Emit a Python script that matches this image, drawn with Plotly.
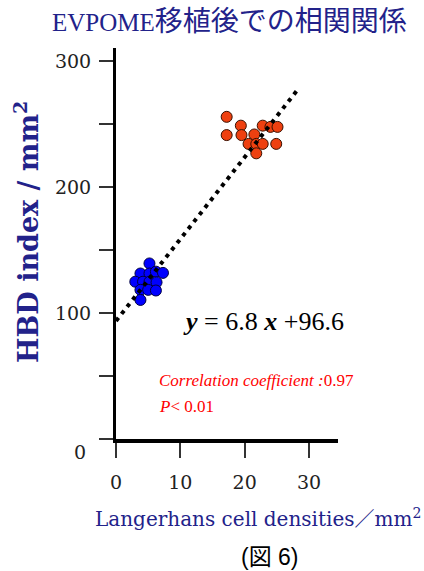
import plotly.graph_objects as go

# ---- data ----
orange_x = [17.2, 17.2, 19.4, 19.5, 21.5, 20.6, 21.8, 22.8, 21.8, 22.8, 24.0, 25.1, 24.9]
orange_y = [256.0, 241.5, 249.0, 241.5, 242.0, 234.5, 234.5, 234.5, 227.0, 249.0, 248.0, 248.0, 234.5]
blue_x = [5.2, 3.8, 5.2, 6.2, 7.3, 3.0, 4.2, 5.2, 6.3, 3.8, 5.0, 6.2, 3.8]
blue_y = [139.5, 131.5, 131.5, 133.0, 132.0, 125.0, 125.0, 125.0, 124.5, 118.5, 118.5, 118.0, 110.5]
fit_x = [0.0, 28.3]
fit_y = [93.8, 278.0]

x_tickvals = [0, 10, 20, 30]
y_tickvals = [0, 50, 100, 150, 200, 250, 300]
y_ticktext = ["", "", "100", "", "200", "", "300"]

W, H = 424, 571
L, R, T, B = 116, 86, 48, 132
PW, PH = W - L - R, H - T - B


def px(x):
    return (x - L) / PW


def py(y):
    return (H - B - y) / PH


NAVY = "#22228a"
SERIF = "Liberation Serif, Times New Roman, serif"
CENTURY = "DejaVu Serif, serif"
TICKFONT = dict(family=CENTURY, size=19, color="#222222")

fig = go.Figure()
fig.add_trace(go.Scatter(
    x=orange_x, y=orange_y, mode="markers",
    marker=dict(size=11, color="#ee4010", line=dict(color="#3a1000", width=1)),
    showlegend=False, hoverinfo="skip"))
fig.add_trace(go.Scatter(
    x=blue_x, y=blue_y, mode="markers",
    marker=dict(size=11, color="#0000ff", line=dict(color="#000040", width=1)),
    showlegend=False, hoverinfo="skip"))
fig.add_trace(go.Scatter(
    x=fit_x, y=fit_y, mode="lines",
    line=dict(color="black", width=4, dash="4px,5px"),
    showlegend=False, hoverinfo="skip"))

fig.update_layout(
    width=W, height=H,
    margin=dict(l=L, r=R, t=T, b=B, pad=0),
    paper_bgcolor="white", plot_bgcolor="white",
    xaxis=dict(range=[0, 34.5], showgrid=False, zeroline=False,
               showline=True, linewidth=4, linecolor="black",
               ticks="outside", ticklen=15, tickwidth=1.5, tickcolor="#333333",
               tickvals=x_tickvals, tickfont=TICKFONT, ticklabelstandoff=8),
    yaxis=dict(range=[0, 310.7], showgrid=False, zeroline=False,
               showline=True, linewidth=3, linecolor="black",
               ticks="outside", ticklen=14, tickwidth=1.5, tickcolor="#333333",
               tickvals=y_tickvals, ticktext=y_ticktext, tickfont=TICKFONT,
               ticklabelstandoff=4),
)

ann = [
    dict(text='EVPOME<span style="font-size:28px">移植後での相関関係</span>',
         x=px(229), y=py(22), font=dict(family=SERIF + ", Noto Sans CJK JP", size=25, color=NAVY),
         xanchor="center", yanchor="middle"),
    dict(text="<b>HBD index / mm<sup>2</sup></b>", x=px(26), y=py(232), textangle=-90,
         font=dict(family=CENTURY, size=27, color=NAVY), xanchor="center", yanchor="middle"),
    dict(text="Langerhans cell densities／mm<sup>2</sup>", x=px(258), y=py(518),
         font=dict(family=CENTURY + ", Noto Sans CJK JP", size=20, color=NAVY),
         xanchor="center", yanchor="middle"),
    dict(text="(図 6)", x=px(270), y=py(557),
         font=dict(family="Liberation Sans, Noto Sans CJK JP", size=23, color="black"),
         xanchor="center", yanchor="middle"),
    dict(text="<b><i>y</i></b> = 6.8 <b><i>x</i></b> +96.6", x=px(181), y=py(321),
         font=dict(family=SERIF, size=26, color="black"), xanchor="left", yanchor="middle"),
    dict(text="<i>Correlation coefficient :</i>0.97", x=px(157), y=py(380),
         font=dict(family=SERIF, size=17, color="#ff0000"), xanchor="left", yanchor="middle"),
    dict(text="<i>P</i>< 0.01", x=px(157), y=py(406),
         font=dict(family=SERIF, size=17, color="#ff0000"), xanchor="left", yanchor="middle"),
    dict(text="0", x=px(80), y=py(452), font=TICKFONT, xanchor="center", yanchor="middle"),
]
for a in ann:
    a.update(xref="paper", yref="paper", showarrow=False)
fig.update_layout(annotations=ann)

fig.write_html("out.html", config={"displayModeBar": False},
               post_script="document.body.style.margin='0';document.body.style.overflow='hidden';")
